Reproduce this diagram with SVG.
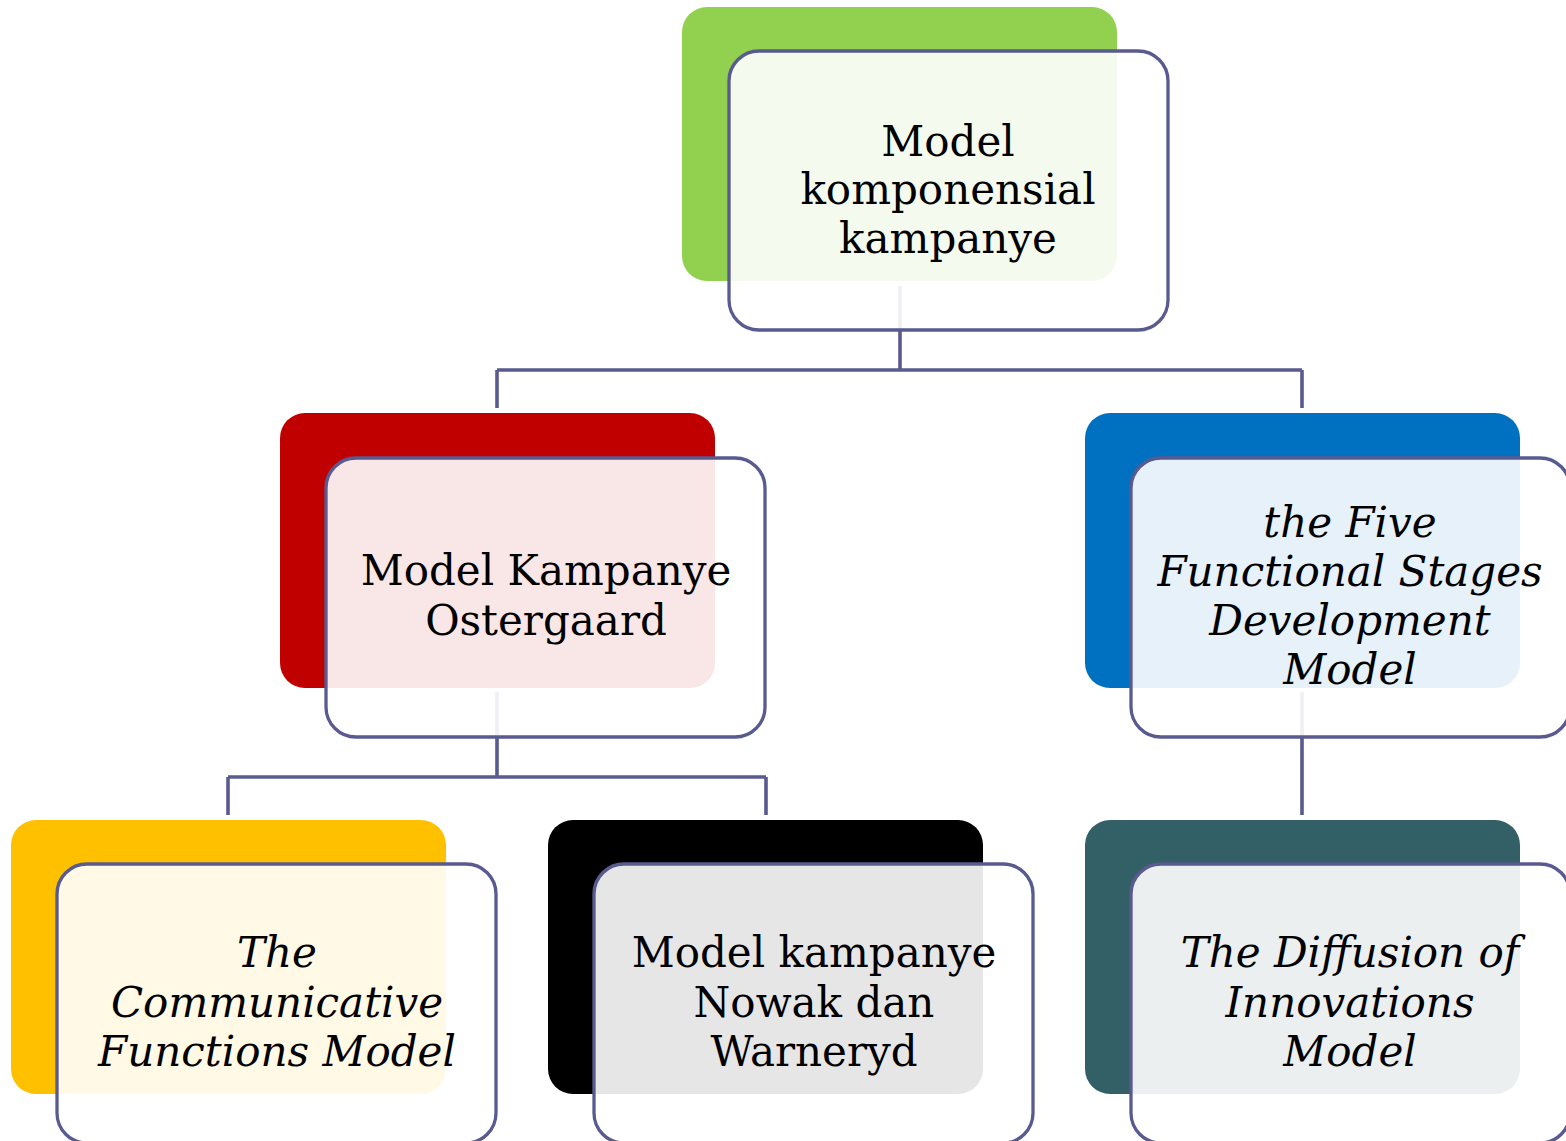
<svg xmlns="http://www.w3.org/2000/svg" width="1566" height="1141" viewBox="0 0 1566 1141">
<style>
.back{stroke:none}
.front{fill:#ffffff;fill-opacity:0.9;stroke:#595A8F;stroke-width:3.3}
.conn{fill:none;stroke:#595A8F;stroke-width:3.6}
text{font-family:"DejaVu Serif","Liberation Serif",serif;font-size:42px;fill:#000;text-anchor:middle}
.it{font-style:italic}
</style>
<rect width="1566" height="1141" fill="#ffffff"/>
<g id="connectors">
<path class="conn" d="M900,286 V370 M497,370 H1302 M497,370 V408 M1302,370 V408"/>
<path class="conn" d="M497,692 V777 M228,777 H766 M228,777 V815 M766,777 V815"/>
<path class="conn" d="M1302,692 V815"/>
</g>
<g id="node-root">
<rect class="back" x="682" y="7" width="435" height="274" rx="25" fill="#92D050"/>
<rect class="front" x="729" y="51" width="439" height="279" rx="30"/>
<text x="948" y="156">Model</text>
<text x="948" y="204">komponensial</text>
<text x="948" y="253">kampanye</text>
</g>
<g id="node-ostergaard">
<rect class="back" x="280" y="413" width="435" height="275" rx="25" fill="#C00000"/>
<rect class="front" x="326" y="458" width="439" height="279" rx="30"/>
<text x="546" y="585">Model Kampanye</text>
<text x="546" y="635">Ostergaard</text>
</g>
<g id="node-five">
<rect class="back" x="1085" y="413" width="435" height="275" rx="25" fill="#0070C0"/>
<rect class="front" x="1131" y="458" width="439" height="279" rx="30"/>
<text class="it" x="1350" y="537">the Five</text>
<text class="it" x="1350" y="586">Functional Stages</text>
<text class="it" x="1350" y="635">Development</text>
<text class="it" x="1350" y="684">Model</text>
</g>
<g id="node-communicative">
<rect class="back" x="11" y="820" width="435" height="274" rx="25" fill="#FFC000"/>
<rect class="front" x="57" y="864" width="439" height="279" rx="30"/>
<text class="it" x="277" y="967">The</text>
<text class="it" x="277" y="1017">Communicative</text>
<text class="it" x="277" y="1066">Functions Model</text>
</g>
<g id="node-nowak">
<rect class="back" x="548" y="820" width="435" height="274" rx="25" fill="#000000"/>
<rect class="front" x="594" y="864" width="439" height="279" rx="30"/>
<text x="814" y="967">Model kampanye</text>
<text x="814" y="1017">Nowak dan</text>
<text x="814" y="1066">Warneryd</text>
</g>
<g id="node-diffusion">
<rect class="back" x="1085" y="820" width="435" height="274" rx="25" fill="#336066"/>
<rect class="front" x="1131" y="864" width="439" height="279" rx="30"/>
<text class="it" x="1350" y="967">The Diffusion of</text>
<text class="it" x="1350" y="1017">Innovations</text>
<text class="it" x="1350" y="1066">Model</text>
</g>
</svg>
